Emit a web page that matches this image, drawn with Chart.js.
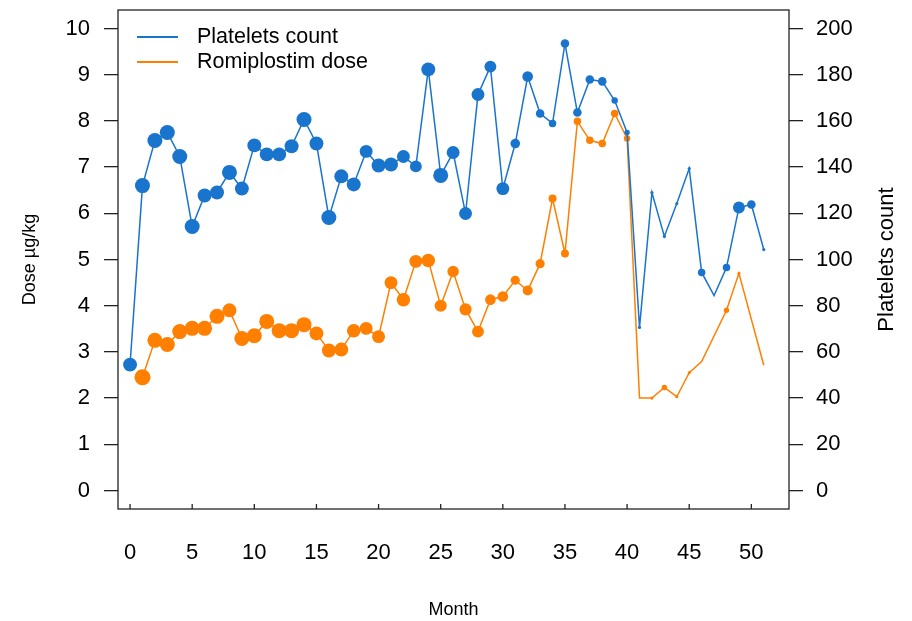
<!DOCTYPE html>
<html>
<head>
<meta charset="utf-8">
<script src="https://cdn.jsdelivr.net/npm/chart.js@4.4.1/dist/chart.umd.min.js"></script>
<style>
  html, body { margin: 0; padding: 0; background: #fff; }
  canvas { display: block; }
</style>
</head>
<body>
<canvas id="chart" width="912" height="621"></canvas>
<script>
// ── data ─────────────────────────────────────────────────────────────────────
const months = [0,1,2,3,4,5,6,7,8,9,10,11,12,13,14,15,16,17,18,19,20,21,22,23,24,25,
                26,27,28,29,30,31,32,33,34,35,36,37,38,39,40,41,42,43,44,45,46,47,48,49,50,51];

const platelets = [54.5,132,151.5,155,144.6,114.3,127.7,129,137.7,130.7,149.4,145.5,145.5,149,160.6,150.2,
                   118.2,136,132.5,146.8,140.7,141.1,144.6,140.3,182.3,136.4,146.3,119.9,171.4,183.5,130.7,
                   150.2,179.2,163.2,158.9,193.5,163.6,177.9,177.1,168.8,155,70.6,129,110,124.2,139.4,
                   94.4,84.4,96.5,122.5,123.8,104.3];

const dose = [null,2.45,3.25,3.16,3.44,3.51,3.51,3.77,3.9,3.29,3.35,3.66,3.46,3.46,3.59,3.4,3.03,3.05,
              3.46,3.51,3.33,4.5,4.13,4.96,4.98,4.0,4.74,3.92,3.44,4.13,4.2,4.55,4.33,4.91,6.32,5.13,
              7.99,7.58,7.51,8.16,7.62,2.0,2.0,2.23,2.03,2.55,2.79,null,3.9,4.7,null,2.71];

// relative weight of each observation (shown as marker size)
const plateletWeight = [0.93,1,1,1,1,1,0.93,0.93,1,0.93,0.93,0.93,0.93,0.93,1,0.93,1,0.93,0.93,0.86,
                        0.93,0.93,0.86,0.79,0.93,1,0.86,0.86,0.86,0.79,0.86,0.64,0.71,0.57,0.5,0.57,
                        0.57,0.57,0.57,0.43,0.36,0.21,0.21,0.21,0.21,0.21,0.5,0,0.5,0.79,0.57,0.21];

const doseWeight = [0,1.07,1,1,1,1,1,1,0.93,1,1,1,1,1,1,0.93,0.93,0.93,0.9,0.86,0.86,0.86,0.9,0.86,
                    0.9,0.81,0.76,0.81,0.79,0.71,0.71,0.61,0.67,0.61,0.53,0.53,0.5,0.5,0.5,0.5,0.43,
                    0,0.21,0.36,0.21,0.21,0,0,0.36,0.21,0,0];

const monthTicks = [0,5,10,15,20,25,30,35,40,45,50];
const doseTicks = [0,1,2,3,4,5,6,7,8,9,10];
const plateletTicks = [0,20,40,60,80,100,120,140,160,180,200];

// ── style ────────────────────────────────────────────────────────────────────
const BLUE = '#1874CD';
const ORANGE = '#FF7F00';
const INK = '#222';
const FONT = "'Liberation Sans', Arial, sans-serif";
const MAX_R = 7.5;

const tickFont = { family: FONT, size: 22 };

// box, inward x ticks, right-hand title and legend, R style
const rStyle = {
  id: 'rStyle',
  afterDraw(chart) {
    const { ctx, chartArea: a, scales } = chart;
    ctx.save();
    ctx.strokeStyle = INK;
    ctx.lineWidth = 1.3;
    ctx.strokeRect(a.left, a.top, a.right - a.left, a.bottom - a.top);

    // x ticks point into the plot
    ctx.beginPath();
    monthTicks.forEach(v => {
      const px = scales.x.getPixelForValue(v);
      ctx.moveTo(px, a.bottom);
      ctx.lineTo(px, a.bottom - 5);
    });
    ctx.stroke();

    // right axis title, read bottom-to-top
    ctx.fillStyle = '#000';
    ctx.font = `22px ${FONT}`;
    ctx.textAlign = 'center';
    ctx.textBaseline = 'middle';
    ctx.translate(887, (a.top + a.bottom) / 2);
    ctx.rotate(-Math.PI / 2);
    ctx.fillText('Platelets count', 0, 0);
    ctx.restore();

    // legend in the top-left corner
    ctx.save();
    ctx.font = `21.5px ${FONT}`;
    ctx.textBaseline = 'middle';
    chart.data.datasets.forEach((ds, i) => {
      const y = 37 + i * 25;
      ctx.strokeStyle = ds.borderColor;
      ctx.lineWidth = 2;
      ctx.beginPath();
      ctx.moveTo(137, y);
      ctx.lineTo(178, y);
      ctx.stroke();
      ctx.fillStyle = '#000';
      ctx.fillText(ds.label, 197, y);
    });
    ctx.restore();
  },
};

const toPts = ys => months.map((m, i) => ({ x: m, y: ys[i] }));

const fitY = w => s => { s.width = w; s.paddingTop = 0; s.paddingBottom = 0; };

new Chart(document.getElementById('chart'), {
  type: 'line',
  data: {
    datasets: [
      {
        label: 'Platelets count',
        data: toPts(platelets),
        yAxisID: 'y2',
        borderColor: BLUE,
        backgroundColor: BLUE,
        borderWidth: 1.5,
        pointRadius: c => plateletWeight[c.dataIndex] * MAX_R,
        pointBorderWidth: 0,
        tension: 0,
      },
      {
        label: 'Romiplostim dose',
        data: toPts(dose),
        yAxisID: 'y',
        borderColor: ORANGE,
        backgroundColor: ORANGE,
        borderWidth: 1.5,
        pointRadius: c => doseWeight[c.dataIndex] * MAX_R,
        pointBorderWidth: 0,
        tension: 0,
        spanGaps: true,
      },
    ],
  },
  options: {
    responsive: false,
    animation: false,
    layout: { padding: { top: 10, left: 0, right: 0, bottom: 0 } },
    plugins: { legend: { display: false }, tooltip: { enabled: false } },
    scales: {
      x: {
        type: 'linear',
        min: -0.97, max: 53.03,
        afterBuildTicks: s => { s.ticks = monthTicks.map(v => ({ value: v })); },
        afterFit: s => { s.height = 112; s.paddingLeft = 0; s.paddingRight = 0; },
        grid: { display: false, drawTicks: false },
        border: { display: false },
        ticks: { font: tickFont, color: '#000', padding: 31, maxRotation: 0, autoSkip: false },
        title: { display: true, text: 'Month', color: '#000', font: { family: FONT, size: 18 }, padding: 0 },
      },
      y: {
        position: 'left',
        min: -0.4, max: 10.4,
        afterBuildTicks: s => { s.ticks = doseTicks.map(v => ({ value: v })); },
        afterFit: fitY(118),
        grid: { drawOnChartArea: false, drawTicks: true, tickLength: 14, color: INK, lineWidth: 1.3 },
        border: { display: false },
        ticks: { font: tickFont, color: '#000', padding: 14 },
        title: { display: true, text: 'Dose µg/kg', color: '#000', font: { family: FONT, size: 18 }, padding: 19 },
      },
      y2: {
        position: 'right',
        min: -8, max: 208,
        afterBuildTicks: s => { s.ticks = plateletTicks.map(v => ({ value: v })); },
        afterFit: fitY(123),
        grid: { drawOnChartArea: false, drawTicks: true, tickLength: 14, color: INK, lineWidth: 1.3 },
        border: { display: false },
        ticks: { font: tickFont, color: '#000', padding: 13 },
      },
    },
  },
  plugins: [rStyle],
});
</script>
</body>
</html>
